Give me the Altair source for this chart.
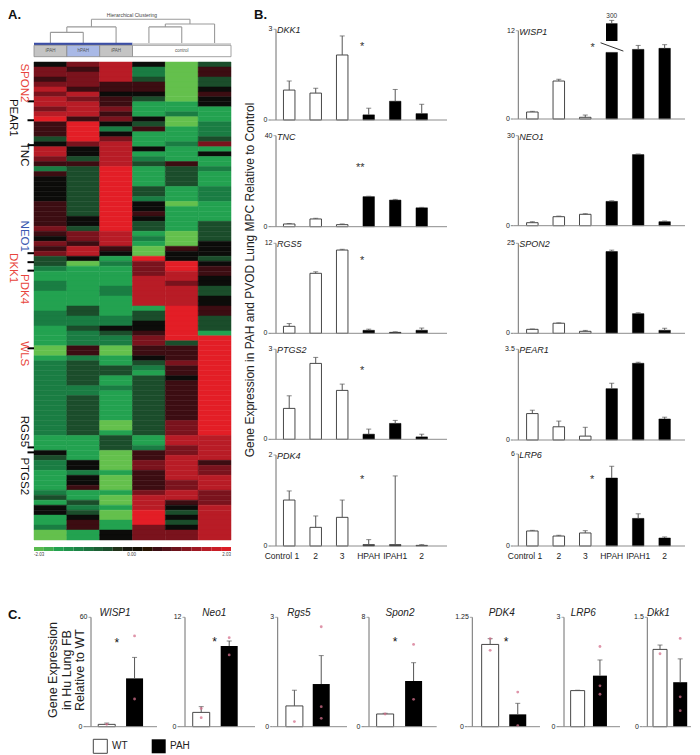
import altair as alt
import pandas as pd

OFF = 8                      # page margin: reference pixel -> chart pixel
W, H = 684, 747
SANS = "Liberation Sans, Arial, sans-serif"
NARROW = "Liberation Sans Narrow, Arial Narrow, Liberation Sans, Arial, sans-serif"

# ============================ DATA ============================
# Panel A heat map: one string per sample column, one digit per gene row
# digit 0 = -2.03 (green) ... 4 = 0.00 (black) ... 8 = +2.03 (red)
heat_samples = ["iPAH", "hPAH", "iPAH", "control", "control", "control"]
heat_col1 = ("4665676776785553477652544" "444555556546563321122111" "12221111001"
             "222222222222222" "11" "1432211112314411200")
heat_col2 = ("6566657677758888644353333" "333333443665774011111111" "33223222552"
             "333332233333333" "11" "1114424451132345511")
heat_col3 = ("7777554556564246777778888" "888888888777541211112211" "11224322001"
             "133112111111001" "33" "3000010001001001144")
heat_col4 = ("4223554311143511141231111" "332445433121008666777777" "13344566554"
             "321333333333333" "11" "2556655556777888666")
heat_col5 = ("0000000011200111211153333" "111011111000544887767777" "88888883555"
             "655455555555666" "77" "6677777667754343466")
heat_col6 = ("3553345441112223614112111" "222111133334443455443344" "55333188888"
             "888888888888888" "77" "7775667776667777777")
heat_columns = [heat_col1, heat_col2, heat_col3, heat_col4, heat_col5, heat_col6]

heat_group_names = ["iPAH", "hPAH", "iPAH", "control"]
heat_group_from = [0, 1, 2, 3]
heat_group_to = [1, 2, 3, 6]

# dendrogram links (x in sample-column units, h = merge height)
dendro_x1 = [0.5, 1.5, 0.5, 1.0, 2.5, 1.0, 3.5, 4.5, 3.5, 4.0, 5.5, 4.0, 1.75, 4.75, 1.75]
dendro_h1 = [0, 0, 0.45, 0.45, 0, 0.68, 0, 0, 0.68, 0.68, 0, 0.80, 0.68, 0.80, 1.0]
dendro_x2 = [0.5, 1.5, 1.5, 1.0, 2.5, 2.5, 3.5, 4.5, 4.5, 4.0, 5.5, 5.5, 1.75, 4.75, 4.75]
dendro_h2 = [0.45, 0.45, 0.45, 0.68, 0.68, 0.68, 0.68, 0.68, 0.68, 0.80, 0.80, 0.80, 1.0, 1.0, 1.0]

colorbar_levels = [0.2, 0.6, 1.0, 1.4, 1.8, 2.2, 2.6, 3.0, 3.4, 3.8,
                   4.2, 4.6, 5.0, 5.4, 5.8, 6.2, 6.6, 7.0, 7.4, 7.8]
colorbar_labels = ["-2.03", "0.00", "2.03"]

marked_genes = ["SPON2", "PEAR1", "TNC", "NEO1", "DKK1", "PDK4", "WLS", "RGS5", "PTGS2"]
marked_label_row = [4.2, 11.2, 18.6, 35.0, 41.4, 45.6, 58.6, 74.2, 83.2]
marked_group = ["red", "black", "black", "blue", "red", "red", "red", "black", "black"]
marked_outer = [False, True, False, False, True, False, False, False, False]
marked_tick_row = [7.9, 11.7, 16.7, 38.4, 40.2, 41.9, 57.5, 77.4, 78.4]

# Panel B: qPCR in lung MPC (Control 1-3 open, HPAH / IPAH1 / IPAH2 filled)
b_categories = ["Control 1", "2", "3", "HPAH", "IPAH1", "2"]
dkk1_mean = [0.99, 0.89, 2.15, 0.17, 0.62, 0.21]
dkk1_err = [1.29, 1.05, 2.78, 0.39, 1.01, 0.52]
tnc_mean = [1.2, 3.4, 0.9, 13.2, 11.7, 8.3]
tnc_err = [1.4, 3.7, 1.2, 13.4, 12.0, 8.5]
rgs5_mean = [0.93, 8.0, 11.1, 0.4, 0.13, 0.4]
rgs5_err = [1.3, 8.2, 11.2, 0.55, 0.2, 0.7]
ptgs2_mean = [1.03, 2.53, 1.63, 0.17, 0.53, 0.08]
ptgs2_err = [1.45, 2.73, 1.84, 0.34, 0.63, 0.17]
pdk4_mean = [1.01, 0.41, 0.63, 0.03, 0.03, 0.015]
pdk4_err = [1.21, 0.66, 1.01, 0.14, 1.54, 0.03]
wisp1_mean = [0.95, 5.16, 0.23, 9.05, 9.46, 9.6]
wisp1_err = [1.04, 5.4, 0.54, None, 10.0, 10.1]
wisp1_break_piece = [10.6, 13.0]      # broken HPAH bar, drawn above the axis break
wisp1_break_err = 13.4
wisp1_break_label = "300"
wisp1_break_line = [2.58, 10.36, 3.44, 9.23]
neo1_mean = [1.0, 3.0, 3.8, 8.1, 23.7, 1.33]
neo1_err = [1.33, 3.2, 4.0, 8.3, 23.9, 1.55]
spon2_mean = [1.1, 2.8, 0.55, 22.7, 5.45, 0.83]
spon2_err = [1.2, 2.9, 0.8, 23.1, 5.7, 1.4]
pear1_mean = [1.02, 0.51, 0.15, 1.98, 2.96, 0.81]
pear1_err = [1.15, 0.73, 0.49, 2.19, 3.0, 0.88]
lrp6_mean = [0.98, 0.65, 0.85, 4.43, 1.8, 0.52]
lrp6_err = [1.02, 0.7, 1.0, 5.2, 2.1, 0.59]

# Panel C: human lung fibroblasts, WT vs PAH
c_genes = ["WISP1", "Neo1", "Rgs5", "Spon2", "PDK4", "LRP6", "Dkk1"]
c_max = [60, 12, 3, 8, 1.25, 3, 1.5]
c_wt_mean = [1.28, 1.57, 0.57, 0.93, 0.94, 0.99, 1.06]
c_wt_err = [2.0, 2.2, 1.0, 0.98, 1.006, 1.0, 1.12]
c_pah_mean = [26.5, 8.85, 1.17, 3.34, 0.141, 1.40, 0.61]
c_pah_err = [38.0, 9.4, 1.95, 4.68, 0.267, 1.83, 0.93]
c_star = [(0.36, 47.6), (0.48, 9.6), None, (0.35, 6.4), (0.58, 1.0), None, None]
c_points_wt = [[1.3], [0.99, 2.0], [0.14], [0.93], [1.006, 0.873], [], [1.0]]
c_points_pah = [[49.8, 15.2], [9.77, 7.87], [2.74, 0.55, 0.23], [6.02, 2.0],
                [0.396, 0.011], [2.2, 1.12, 0.89], [1.21, 0.41, 0.22]]

# ============================ LAYOUT (reference pixels) ============================
HEAT_COLORS = ["#64c04d", "#23a250", "#1a7d43", "#1b4d2b", "#0c0c0a",
               "#3c0d12", "#7a131d", "#b81c26", "#e31e26"]
GENE_COLORS = {"red": "#e8453c", "black": "#111111", "blue": "#3a58b0"}

B_COLS = {"L": (271, 447, 285), "R": (513.3, 685, 528.2)}     # axis x, end x, first bar centre
B_ROWS = {"L": [(29.3, 120), (135.7, 226.7), (243.3, 333.3), (349.3, 439.3), (455, 546)],
          "R": [(30.7, 119), (135.7, 225.7), (243.3, 333.3), (349.3, 440), (454, 546)]}
B_SP = 28.1
B_BW = 11.5

C_TOP, C_BASE = 617.3, 726.7
c_axis_x = [86, 180, 272.7, 364, 467.3, 559, 642.3]
c_wt_x = [104.3, 198.7, 292, 382.7, 488, 575.3, 658.3]
c_pah_x = [136.7, 231, 323, 415.7, 520, 602, 683.7]
c_end_x = [157, 255, 347, 436.7, 540, 620, 691]
c_bar_w = [17, 17, 17, 17, 17, 14, 14]
c_title_x = [115, 214.3, 299, 400, 501.7, 583.3, 658.3]

BASELINES = []               # (axis x, end x, base y) of every bar panel, drawn last


def S(domain, r0, r1):
    return alt.Scale(domain=domain, range=[r0 - OFF, r1 - OFF], nice=False, zero=False)


def V(v):
    return alt.value(v - OFF)


def one(t):
    return pd.DataFrame({"t": [t]})


def label(text, x, y, size, color="#222", font=SANS, align="center", baseline="middle",
          angle=0, style="normal", weight="normal"):
    return alt.Chart(one(text)).mark_text(
        align=align, baseline=baseline, angle=angle, font=font, fontSize=size,
        fontStyle=style, fontWeight=weight, color=color).encode(text="t:N", x=V(x), y=V(y))


def axes_marks(xs, ys, dom, ymax, fs=7):
    """Vertical axis line, top tick and its label, through the panel's own scales."""
    top = pd.DataFrame({"x": [dom[0]], "y": [ymax], "t": [f"{ymax:g}"], "z": [0.0]})
    X = alt.X("x:Q", scale=xs, axis=None)
    Y = alt.Y("y:Q", scale=ys, axis=None)
    return [
        alt.Chart(top).mark_rule(color="#6e6e6e", strokeWidth=1).encode(
            x=X, y=Y, y2="z:Q"),
        alt.Chart(top).mark_tick(orient="horizontal", size=2.5, thickness=1, color="#808080",
                                 xOffset=-1.25).encode(x=X, y=Y),
        alt.Chart(top).mark_text(align="right", baseline="middle", dx=-3.5, font=NARROW,
                                 fontSize=fs, color="#222").encode(x=X, y=Y, text="t:N"),
    ]


layers = []

# ----------------------------- Panel A -----------------------------
NROW = min(len(s) for s in heat_columns)
hrows = []
for ci, s in enumerate(heat_columns):
    for ri in range(NROW):
        hrows.append({"c": ci, "c2": ci + 1, "r": ri, "r2": ri + 1, "lv": int(s[ri])})
heat_df = pd.DataFrame(hrows)
cscale = alt.Scale(domain=list(range(9)), range=HEAT_COLORS)
layers.append(alt.Chart(heat_df).mark_rect(strokeWidth=0.5).encode(
    x=alt.X("c:Q", scale=S([0, 6], 34, 231), axis=None), x2="c2:Q",
    y=alt.Y("r:Q", scale=S([0, NROW], 62, 540), axis=None), y2="r2:Q",
    color=alt.Color("lv:Q", scale=cscale, legend=None),
    stroke=alt.Stroke("lv:Q", scale=cscale, legend=None)))

# colour bar
cb_df = pd.DataFrame({"i": list(range(len(colorbar_levels))),
                      "i2": [k + 1 for k in range(len(colorbar_levels))],
                      "lv": colorbar_levels})
layers.append(alt.Chart(cb_df).mark_rect().encode(
    x=alt.X("i:Q", scale=S([0, len(colorbar_levels)], 34, 231), axis=None), x2="i2:Q",
    y=V(547), y2=V(551),
    color=alt.Color("lv:Q", scale=cscale, legend=None)))
layers.append(label(colorbar_labels[0], 34, 555, 4.5, color="#444", align="left"))
layers.append(label(colorbar_labels[1], 131.7, 555, 4.5, color="#444"))
layers.append(label(colorbar_labels[2], 231, 555, 4.5, color="#444", align="right"))

# dendrogram
dscale_x = S([0, 6], 34, 231)
dscale_y = S([0, 1], 43, 19.3)
dd = pd.DataFrame({"x": dendro_x1, "y": dendro_h1, "x2": dendro_x2, "y2": dendro_h2})
hdr = pd.DataFrame({"name": heat_group_names, "a": heat_group_from, "b": heat_group_to,
                    "m": [(a + b) / 2 for a, b in zip(heat_group_from, heat_group_to)],
                    "fill": ["#c4c4c4", "#a9b9e6", "#c4c4c4", "#ffffff"],
                    "top": [-0.097] * 4, "bot": [-0.578] * 4, "mid": [-0.34] * 4})
strip = pd.DataFrame({"a": [0, 3], "b": [3, 6], "fill": ["#3b4ea6", "#d4d4d4"],
                      "top": [0.013, 0.0], "bot": [-0.097, -0.097]})
dx = alt.X("x:Q", scale=dscale_x, axis=None)
layers.append(alt.layer(
    alt.Chart(dd).mark_rule(color="#9a9a9a", strokeWidth=1.1).encode(
        x=dx, x2="x2:Q", y=alt.Y("y:Q", scale=dscale_y, axis=None), y2="y2:Q"),
    alt.Chart(strip).mark_rect().encode(
        x=alt.X("a:Q", scale=dscale_x, axis=None), x2="b:Q",
        y=alt.Y("top:Q", scale=dscale_y, axis=None), y2="bot:Q",
        fill=alt.Fill("fill:N", scale=None)),
    alt.Chart(hdr).mark_rect(stroke="#8a8a8a", strokeWidth=0.8).encode(
        x=alt.X("a:Q", scale=dscale_x, axis=None), x2="b:Q",
        y=alt.Y("top:Q", scale=dscale_y, axis=None), y2="bot:Q",
        fill=alt.Fill("fill:N", scale=None)),
    alt.Chart(hdr).mark_text(fontSize=4.5, font=SANS, color="#555").encode(
        x=alt.X("m:Q", scale=dscale_x, axis=None),
        y=alt.Y("mid:Q", scale=dscale_y, axis=None), text="name:N"),
))
layers.append(label("Hierarchical Clustering", 132, 15, 5, color="#444"))

# gene marks on the left of heat map
yh = S([0, NROW], 62, 540)
tk = pd.DataFrame({"r": marked_tick_row})
layers.append(alt.Chart(tk).mark_rule(color="#000", strokeWidth=2).encode(
    y=alt.Y("r:Q", scale=yh, axis=None), x=V(27.5), x2=V(34)))
gl = pd.DataFrame({"g": marked_genes, "r": marked_label_row,
                   "col": [GENE_COLORS[c] for c in marked_group], "outer": marked_outer})
for outer, xpos in [(True, 12.8), (False, 24)]:
    sub = gl[gl.outer == outer]
    layers.append(alt.Chart(sub).mark_text(angle=90, fontSize=11.5, font=SANS,
                                           baseline="middle", align="center").encode(
        y=alt.Y("r:Q", scale=yh, axis=None), x=V(xpos), text="g:N",
        color=alt.Color("col:N", scale=None)))

layers.append(label("A.", 8, 19, 13, color="#111", align="left", baseline="alphabetic",
                    weight="bold"))


# ----------------------------- Panel B -----------------------------
def b_panel(gene, mean, err, ymax, col, k, star=None, xlabels=False, wisp=False):
    ax, xe, c0 = B_COLS[col]
    yt, yb = B_ROWS[col][k]
    BASELINES.append((ax, xe, yb))
    dom = [(ax - c0) / B_SP, (xe - c0) / B_SP]
    xs = S(dom, ax, xe)
    ys = S([0, ymax], yb, yt)
    df = pd.DataFrame({"i": list(range(6)), "m": mean, "e": err, "z": [0.0] * 6})
    ctrl = df[df.i < 3]
    pah = df[df.i >= 3]
    Xn = alt.X("i:Q", scale=xs, axis=None)
    Yn = alt.Y("m:Q", scale=ys, axis=None)
    de = df.dropna(subset=["e"])
    parts = axes_marks(xs, ys, dom, ymax) + [
        alt.Chart(ctrl).mark_bar(orient="vertical", size=B_BW, fill="white", stroke="#333",
                                 strokeWidth=0.9).encode(x=Xn, y=Yn, y2="z:Q"),
        alt.Chart(pah).mark_bar(orient="vertical", size=B_BW, fill="black", stroke="black",
                                strokeWidth=0.5).encode(x=Xn, y=Yn, y2="z:Q"),
        alt.Chart(de).mark_rule(color="#555", strokeWidth=1).encode(x=Xn, y=Yn, y2="e:Q"),
        alt.Chart(de).mark_tick(orient="horizontal", size=5, thickness=1, color="#555").encode(
            x=Xn, y=alt.Y("e:Q", scale=ys, axis=None)),
    ]
    if star is not None:
        sd = pd.DataFrame({"sx": [star[0]], "sy": [star[1]], "t": [star[2]]})
        parts.append(alt.Chart(sd).mark_text(fontSize=11, font=SANS, color="#333", dy=3).encode(
            x=alt.X("sx:Q", scale=xs, axis=None), y=alt.Y("sy:Q", scale=ys, axis=None),
            text="t:N"))
    if wisp:
        bp = pd.DataFrame({"i": [3], "a": [wisp1_break_piece[0]], "b": [wisp1_break_piece[1]],
                           "e": [wisp1_break_err], "lab": [wisp1_break_label],
                           "ly": [wisp1_break_err + 0.6]})
        parts += [
            alt.Chart(bp).mark_bar(orient="vertical", size=B_BW, fill="black").encode(
                x=Xn, y=alt.Y("a:Q", scale=ys, axis=None), y2="b:Q"),
            alt.Chart(bp).mark_rule(color="#555").encode(
                x=Xn, y=alt.Y("b:Q", scale=ys, axis=None), y2="e:Q"),
            alt.Chart(bp).mark_tick(orient="horizontal", size=5, thickness=1, color="#555").encode(
                x=Xn, y=alt.Y("e:Q", scale=ys, axis=None)),
            alt.Chart(bp).mark_text(fontSize=6.5, font=NARROW, color="#333").encode(
                x=Xn, y=alt.Y("ly:Q", scale=ys, axis=None), text="lab:N"),
        ]
        bl = pd.DataFrame({"x": [wisp1_break_line[0]], "y": [wisp1_break_line[1]],
                           "x2": [wisp1_break_line[2]], "y2": [wisp1_break_line[3]]})
        parts.append(alt.Chart(bl).mark_rule(color="#333", strokeWidth=1).encode(
            x=alt.X("x:Q", scale=xs, axis=None), x2="x2:Q",
            y=alt.Y("y:Q", scale=ys, axis=None), y2="y2:Q"))
    if xlabels:
        lab = pd.DataFrame({"i": list(range(6)), "t": b_categories})
        parts.append(alt.Chart(lab[lab.i > 0]).mark_text(
            fontSize=8.5, font=NARROW, color="#222").encode(x=Xn, y=V(556), text="t:N"))
        parts.append(alt.Chart(lab[lab.i == 0]).mark_text(
            fontSize=8.5, font=NARROW, color="#222", align="right", dx=10).encode(
            x=Xn, y=V(556), text="t:N"))
    parts.append(label(gene, ax + 6, yt + 1, 9, color="#222", font=NARROW, align="left",
                       style="italic"))
    return alt.layer(*parts)


layers.append(b_panel("DKK1", dkk1_mean, dkk1_err, 3, "L", 0, star=(2.75, 2.5, "*")))
layers.append(b_panel("TNC", tnc_mean, tnc_err, 40, "L", 1, star=(2.68, 27.1, "**")))
layers.append(b_panel("RGS5", rgs5_mean, rgs5_err, 12, "L", 2, star=(2.75, 10.0, "*")))
layers.append(b_panel("PTGS2", ptgs2_mean, ptgs2_err, 3, "L", 3, star=(2.75, 2.37, "*")))
layers.append(b_panel("PDK4", pdk4_mean, pdk4_err, 2, "L", 4, star=(2.75, 1.52, "*"),
                      xlabels=True))
layers.append(b_panel("WISP1", wisp1_mean, wisp1_err, 12, "R", 0, star=(2.28, 10.1, "*"),
                      wisp=True))
layers.append(b_panel("NEO1", neo1_mean, neo1_err, 30, "R", 1))
layers.append(b_panel("SPON2", spon2_mean, spon2_err, 25, "R", 2))
layers.append(b_panel("PEAR1", pear1_mean, pear1_err, 3.5, "R", 3))
layers.append(b_panel("LRP6", lrp6_mean, lrp6_err, 6, "R", 4, star=(2.26, 4.5, "*"),
                      xlabels=True))

layers.append(label("Gene Expression in PAH and PVOD  Lung MPC Relative to Control",
                    250, 280, 12, color="#222", angle=270))
layers.append(label("B.", 254, 19, 13, color="#111", align="left", baseline="alphabetic",
                    weight="bold"))


# ----------------------------- Panel C -----------------------------
def c_panel(k):
    ax, wx, px, ex = c_axis_x[k], c_wt_x[k], c_pah_x[k], c_end_x[k]
    BASELINES.append((ax, ex, C_BASE))
    sp = px - wx
    dom = [(ax - wx) / sp, (ex - wx) / sp]
    xs = S(dom, ax, ex)
    ys = S([0, c_max[k]], C_BASE, C_TOP)
    df = pd.DataFrame({"i": [0, 1], "m": [c_wt_mean[k], c_pah_mean[k]],
                       "e": [c_wt_err[k], c_pah_err[k]], "z": [0.0, 0.0]})
    Xn = alt.X("i:Q", scale=xs, axis=None)
    Yn = alt.Y("m:Q", scale=ys, axis=None)
    bw = c_bar_w[k]
    parts = axes_marks(xs, ys, dom, c_max[k]) + [
        alt.Chart(df[df.i == 0]).mark_bar(orient="vertical", size=bw, fill="white",
                                          stroke="#333", strokeWidth=0.9).encode(
            x=Xn, y=Yn, y2="z:Q"),
        alt.Chart(df[df.i == 1]).mark_bar(orient="vertical", size=bw, fill="black").encode(
            x=Xn, y=Yn, y2="z:Q"),
        alt.Chart(df).mark_rule(color="#555", strokeWidth=1).encode(x=Xn, y=Yn, y2="e:Q"),
        alt.Chart(df).mark_tick(orient="horizontal", size=5, thickness=1, color="#555").encode(
            x=Xn, y=alt.Y("e:Q", scale=ys, axis=None)),
    ]
    pts = pd.DataFrame({"i": [0] * len(c_points_wt[k]) + [1] * len(c_points_pah[k]),
                        "v": c_points_wt[k] + c_points_pah[k]})
    if len(pts):
        parts.append(alt.Chart(pts).mark_circle(size=8, color="#d4708c", opacity=0.75).encode(
            x=Xn, y=alt.Y("v:Q", scale=ys, axis=None)))
    if c_star[k] is not None:
        sd = pd.DataFrame({"sx": [c_star[k][0]], "sy": [c_star[k][1]]})
        parts.append(alt.Chart(sd).mark_text(text="*", fontSize=12, font=SANS, color="#111",
                                             dy=3).encode(
            x=alt.X("sx:Q", scale=xs, axis=None), y=alt.Y("sy:Q", scale=ys, axis=None)))
    parts.append(label(c_genes[k], c_title_x[k], 613, 10, color="#222", font=NARROW,
                       style="italic"))
    return alt.layer(*parts)


for k in range(len(c_genes)):
    layers.append(c_panel(k))

layers.append(alt.Chart(one("")).mark_text(
    text=["Gene Expression", "in Hu Lung FB", "Relative to WT"], angle=270, fontSize=12.5,
    lineHeight=13.5, font=SANS, color="#222", baseline="middle").encode(x=V(53), y=V(670)))
layers.append(label("C.", 8, 619, 13, color="#111", align="left", baseline="alphabetic",
                    weight="bold"))

# legend
layers.append(alt.Chart(one("")).mark_square(size=196, fill="white", stroke="#444",
                                             strokeWidth=1, opacity=1).encode(
    x=V(100.3), y=V(746.3)))
layers.append(alt.Chart(one("")).mark_square(size=196, fill="black", opacity=1).encode(
    x=V(158.7), y=V(746.3)))
layers.append(label("WT", 112, 746.3, 10, color="#222", align="left"))
layers.append(label("PAH", 170, 746.3, 10, color="#222", align="left"))

# zero base lines, zero ticks and "0" labels of every bar panel (drawn on top)
for ax, xe, yb in BASELINES:
    layers.append(alt.Chart(one("0")).mark_rule(color="#8c8c8c", strokeWidth=1).encode(
        x=V(ax), x2=V(xe), y=V(yb)))
    layers.append(alt.Chart(one("0")).mark_rule(color="#808080", strokeWidth=1).encode(
        x=V(ax - 2.5), x2=V(ax), y=V(yb)))
    layers.append(label("0", ax - 3.5, yb, 7, color="#222", font=NARROW, align="right"))

chart = alt.layer(*layers).resolve_scale(
    x="independent", y="independent", color="independent", stroke="independent"
).properties(
    width=W, height=H, padding=0, autosize=alt.AutoSizeParams(type="none")
).configure_view(stroke=None)

chart.save("out.html", embed_options={"renderer": "svg", "actions": False})
